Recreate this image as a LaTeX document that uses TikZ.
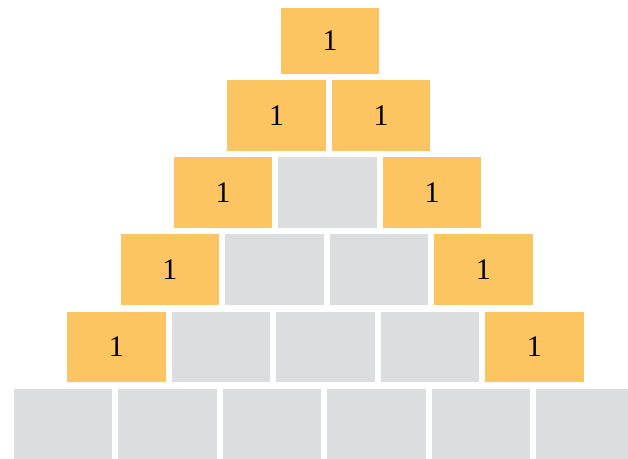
\documentclass[tikz,border=0pt]{standalone}
\usepackage{fontspec}
\setmainfont{Liberation Serif}
\definecolor{naranja}{HTML}{FDC562}
\definecolor{gris}{HTML}{DCDDDE}
\tikzset{
  celda/.style={rectangle, minimum width=1.97cm, minimum height=1.41cm, inner sep=0pt, font=\fontsize{17}{20}\selectfont},
  borde/.style={celda, fill=naranja},
  vacia/.style={celda, fill=gris}
}
\begin{document}
\begin{tikzpicture}[x=0.02cm, y=-0.02cm]
\clip (0,0) rectangle (628,458);

% Vertice
\node[borde, minimum height=1.32cm] (c-0-0) at (330,41) {1};

% Bordes
	\foreach \r in {1,...,4} {
		\node[borde] (c-\r-0) at ({330-53.4*\r},{115.25+77.2*(\r-1)}) {1};
		\node[borde] (c-\r-\r) at ({330-53.4*\r+104.5*\r},{115.25+77.2*(\r-1)}) {1};
	}

% Interior
	\foreach \r in {2,3,4} {
		\pgfmathtruncatemacro{\ult}{\r-1}
		\foreach \c in {1,...,\ult}
			\node[vacia] (c-\r-\c) at ({330-53.4*\r+104.5*\c},{115.25+77.2*(\r-1)}) {};
	}

% Base
	\foreach \c in {0,...,5}
		\node[vacia] (c-5-\c) at ({330-53.4*5+104.5*\c},{115.25+77.2*4}) {};
\end{tikzpicture}
\end{document}
